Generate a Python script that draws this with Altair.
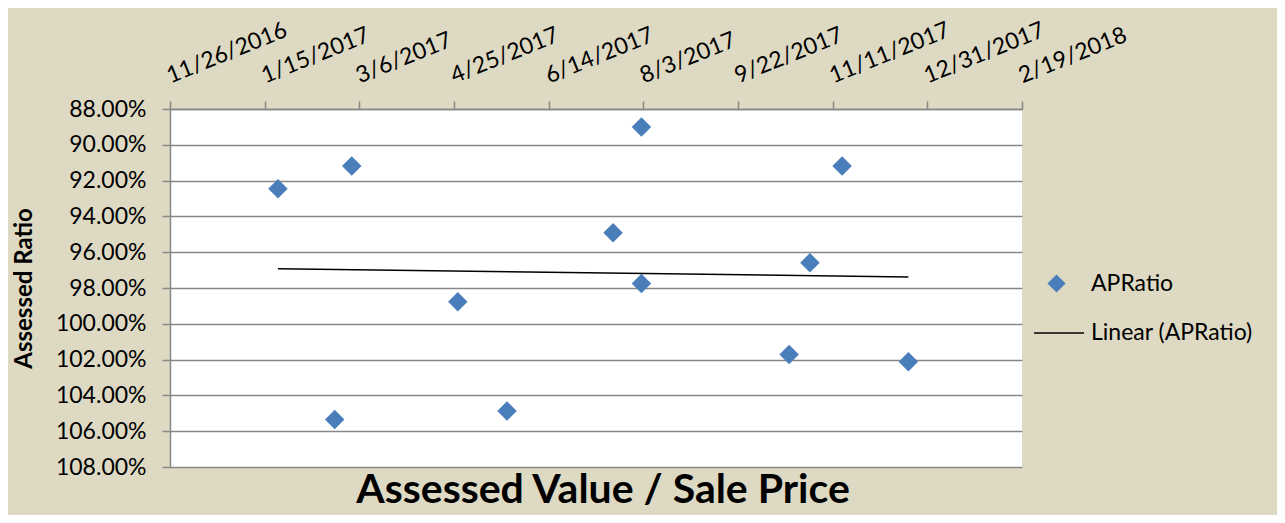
import altair as alt
import pandas as pd

# ---- data ----
sale_dates = ["2017-01-22", "2017-02-21", "2017-03-02", "2017-04-27", "2017-05-23",
              "2017-07-18", "2017-08-02", "2017-08-02", "2017-10-19", "2017-10-30",
              "2017-11-16", "2017-12-21"]
ap_ratio = [0.9245, 1.0534, 0.9118, 0.9877, 1.0487, 0.9492, 0.8900, 0.9775,
            1.0171, 0.9659, 0.9118, 1.0212]
series_name = "APRatio"
trend_name = "Linear (APRatio)"
x_tick_labels = ["11/26/2016", "1/15/2017", "3/6/2017", "4/25/2017", "6/14/2017",
                 "8/3/2017", "9/22/2017", "11/11/2017", "12/31/2017", "2/19/2018"]
y_ticks = [0.88, 0.90, 0.92, 0.94, 0.96, 0.98, 1.00, 1.02, 1.04, 1.06, 1.08]
x_title = "Assessed Value / Sale Price"
y_title = "Assessed Ratio"


def to_ms(s, fmt=None):
    return int(pd.to_datetime(s, format=fmt, utc=True).value // 10**6)


x_tick_ms = [to_ms(s, "%m/%d/%Y") for s in x_tick_labels]

df = pd.DataFrame({
    "t": [to_ms(d, "%Y-%m-%d") for d in sale_dates],
    "ratio": ap_ratio,
    "series": series_name,
    "trend": trend_name,
})

FONT = "Lato"
BLUE = "#4A7EBB"
GRID = "#878787"

x_enc = alt.X(
    "t:Q",
    scale=alt.Scale(domain=[x_tick_ms[0], x_tick_ms[-1]], nice=False, zero=False),
    axis=alt.Axis(
        orient="top", values=x_tick_ms, title=None, grid=False,
        labelExpr="utcFormat(datum.value, '%-m/%-d/%Y')",
        labelAngle=338, labelAlign="left", labelBaseline="alphabetic",
        labelPadding=18, tickSize=8, labelFlush=False, labelOverlap=False,
        labelBound=False,
    ),
)
y_enc = alt.Y(
    "ratio:Q",
    scale=alt.Scale(domain=[y_ticks[0], y_ticks[-1]], reverse=True, nice=False, zero=False),
    axis=alt.Axis(
        values=y_ticks, format=".2%", title=y_title, tickSize=8, labelPadding=16,
        titleAngle=270, titleX=-146, titleY=179, titleAlign="center",
        titleBaseline="middle", labelOverlap=False,
    ),
)

points = alt.Chart(df).mark_point(shape="diamond", filled=True, size=380, opacity=1).encode(
    x=x_enc,
    y=y_enc,
    fill=alt.Fill(
        "series:N",
        scale=alt.Scale(domain=[series_name], range=[BLUE]),
        legend=alt.Legend(
            title=None, orient="none", legendX=875, legendY=163, padding=0,
            symbolType="diamond", symbolSize=330, symbolStrokeWidth=0,
            labelOffset=23,
        ),
    ),
)

trend = alt.Chart(df).transform_regression(
    "t", "ratio", groupby=["trend"]
).mark_line(strokeWidth=1.6, color="black").encode(
    x=x_enc,
    y=y_enc,
    stroke=alt.Stroke(
        "trend:N",
        scale=alt.Scale(domain=[trend_name], range=["black"]),
        legend=alt.Legend(
            title=None, orient="none", legendX=863, legendY=198, padding=0,
            symbolType="stroke", symbolSize=2500, symbolStrokeWidth=1.6,
            labelOffset=6,
        ),
    ),
)

chart = alt.layer(points, trend).resolve_scale(fill="independent", stroke="independent").properties(
    width=852,
    height=358,
    autosize=alt.AutoSizeParams(type="none"),
    padding={"left": 162, "top": 101, "right": 255, "bottom": 48},
    title=alt.TitleParams(
        text=x_title, orient="bottom", anchor="middle", offset=-8,
        font=FONT, fontSize=41, fontWeight="bold", color="black", dx=7,
    ),
).configure(
    background="#DDD9C3",
).configure_view(
    stroke=None, fill="white",
).configure_axis(
    labelFont=FONT, labelFontSize=23, labelColor="black",
    titleFont=FONT, titleFontSize=24, titleFontWeight="bold", titleColor="black",
    gridColor=GRID, gridWidth=1.5, gridOpacity=1,
    domainColor=GRID, domainWidth=1.5, tickColor=GRID, tickWidth=1.5,
).configure_legend(
    labelFont=FONT, labelFontSize=23, labelColor="black", labelLimit=300,
)

chart.save("out.html", embed_options={"renderer": "svg", "actions": False})
